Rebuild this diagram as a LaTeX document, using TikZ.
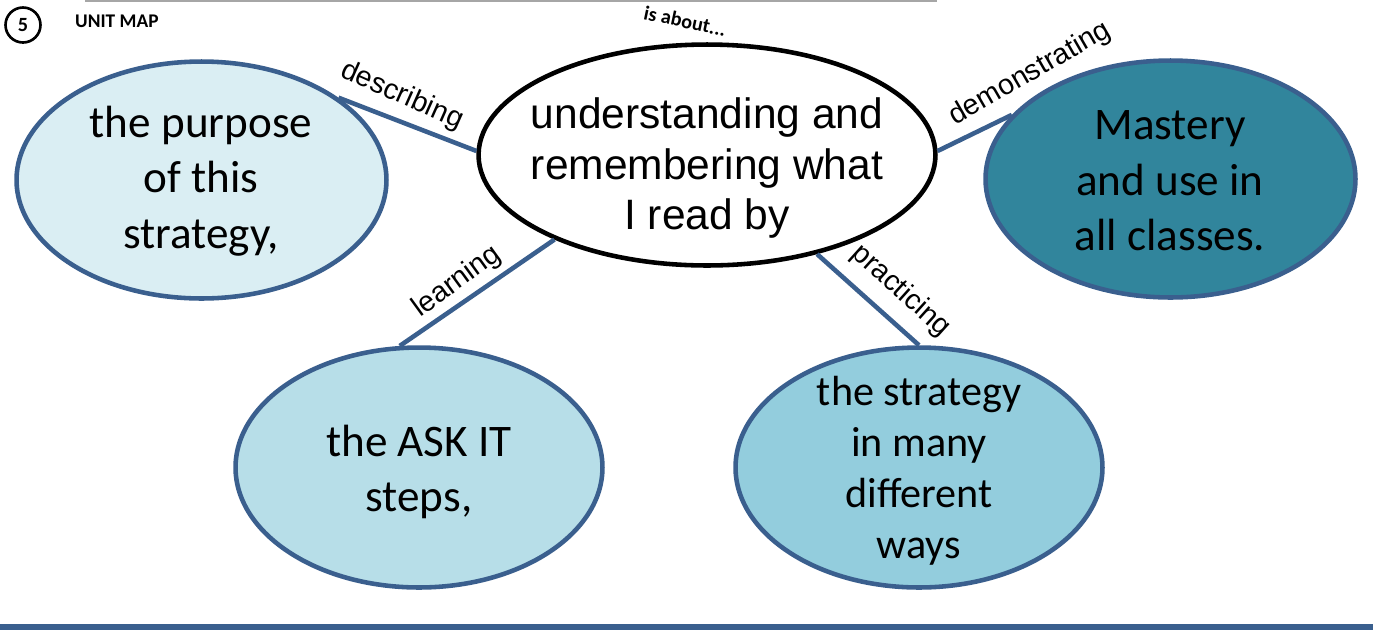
\documentclass[tikz,border=0pt]{standalone}
\usepackage{fontspec}
\setmainfont{Carlito}
\newfontfamily\arialfont{Liberation Sans}
\usetikzlibrary{shapes.geometric}

\definecolor{mapline}{HTML}{3A5F8E}
\definecolor{purposefill}{HTML}{DAEEF3}
\definecolor{masteryfill}{HTML}{31859C}
\definecolor{stepsfill}{HTML}{B7DEE8}
\definecolor{waysfill}{HTML}{93CDDD}

\begin{document}
\begin{tikzpicture}[
    x=0.02cm, y=-0.02cm,
    % shapes
    bubble/.style={ellipse, draw=mapline, line width=2.6pt, inner sep=0pt,
                   minimum width=7.4cm, minimum height=4.74cm},
    hub/.style={ellipse, draw=black, line width=2.6pt, inner sep=0pt, fill=white,
                minimum width=9.14cm, minimum height=4.42cm},
    % texts
    bubbletext/.style={align=center, font=\fontsize{25.7}{31.5}\selectfont},
    hubtext/.style={align=center, font=\arialfont\fontsize{24.2}{29}\selectfont},
    linklabel/.style={font=\arialfont\fontsize{16.3}{19}\selectfont, inner sep=1pt},
    link/.style={draw=mapline, line width=2.6pt}
]
\useasboundingbox (0,0) rectangle (1373,630);

% header
\draw[gray!70, line width=1.1pt] (85,1) -- (937,1);
\node[circle, draw, line width=1.5pt, minimum size=0.7cm, inner sep=0pt,
      font=\bfseries\fontsize{11.5}{14}\selectfont] (num) at (23,25) {5};
\node[anchor=base west, font=\bfseries\fontsize{11}{13}\selectfont] (title) at (69,27) {UNIT MAP};

% ellipses
\node[hub] (hub) at (707,155) {};
\node[bubble, fill=purposefill] (purpose) at (201.5,180) {};
\node[bubble, fill=masteryfill] (mastery) at (1170.5,179) {};
\node[bubble, fill=stepsfill, minimum width=7.34cm, minimum height=4.8cm] (steps) at (419,467.5) {};
\node[bubble, fill=waysfill, minimum width=7.34cm, minimum height=4.8cm] (ways) at (919,467.5) {};

% texts in ellipses
\node[hubtext] (hubtxt) at (707,168) {understanding and\\remembering what\\I read by};
\node[bubbletext] (purposetxt) at (201,181) {the purpose\\of this\\strategy,};
\node[bubbletext] (masterytxt) at (1170,181) {Mastery\\and use in\\all classes.};
\node[bubbletext] (stepstxt) at (419,472) {the ASK IT\\steps,};
\node[bubbletext, font=\fontsize{24}{29}\selectfont] (waystxt) at (919,471) {the strategy\\in many\\different\\ways};

% connectors
\draw[link] (purpose.31) -- (hub.179);
\draw[link] (hub.1) -- (mastery.158);
\draw[link] (hub.209) -- (steps.99);
\draw[link] (hub.318) -- (ways.north);

% connector labels
\node[font=\bfseries\fontsize{11.5}{14}\selectfont, rotate=-12] (about) at (685,21) {is about...};
\node[linklabel, rotate=-24] (describing) at (402,96) {describing};
\node[linklabel, rotate=30] (demonstrating) at (1030,74) {demonstrating};
\node[linklabel, rotate=36] (learning) at (457,282) {learning};
\node[linklabel, rotate=-42] (practicing) at (901,291) {practicing};

% footer rule
\draw[mapline, line width=3.4pt] (0,627) -- (1373,627);

\end{tikzpicture}
\end{document}
